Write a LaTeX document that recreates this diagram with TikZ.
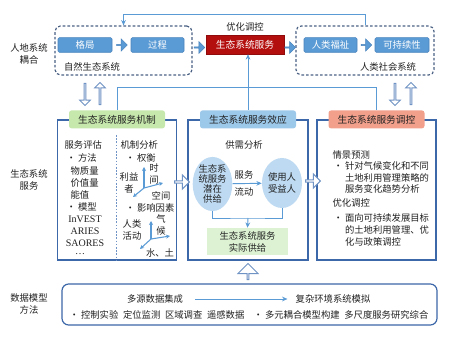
\documentclass[tikz,border=0pt]{standalone}
\usepackage{fontspec}
\setmainfont{Noto Sans CJK SC}
\newfontfamily\latinfont{Liberation Serif}
\usetikzlibrary{arrows.meta,positioning,calc,shapes.geometric,shapes.arrows}
\definecolor{ESLine}{HTML}{5B9BD5}
\definecolor{ESFrame}{HTML}{3C67A8}
\definecolor{ESDash}{HTML}{4A6184}
\definecolor{ESChip}{HTML}{5B9BD5}
\definecolor{ESChipEdge}{HTML}{4A84BE}
\definecolor{ESRed}{HTML}{B40F0F}
\definecolor{ESGreen}{HTML}{C6E8AC}
\definecolor{ESGreenBox}{HTML}{DCF2D3}
\definecolor{ESBlueHead}{HTML}{9CC8EA}
\definecolor{ESSalmon}{HTML}{F2A08C}
\definecolor{ESOval}{HTML}{BDDAF2}
\definecolor{ESHollow}{HTML}{6F93C4}
\definecolor{ESInk}{HTML}{222222}
\tikzset{
  link/.style={ESLine,line width=0.7pt},
  linkarrow/.style={link,-{Stealth[length=4pt,width=3.5pt]}},
  axis/.style={ESLine,line width=0.8pt,-{Stealth[length=3pt,width=3pt]}},
  divider/.style={ESHollow,line width=0.6pt,dash pattern=on 1.2pt off 1.2pt},
  txt/.style={text=ESInk,font=\fontsize{7}{9}\selectfont,inner sep=1pt,align=center},
  sysbox/.style={draw=ESDash,line width=0.9pt,dash pattern=on 2pt off 1.5pt,rounded corners=4pt},
  chip/.style={draw=ESChipEdge,line width=0.5pt,fill=ESChip,text=white,rounded corners=1pt,
               font=\fontsize{7}{9}\selectfont,minimum height=11pt,inner sep=0pt},
  essbox/.style={draw=ESRed!80!black,fill=ESRed,text=white,font=\fontsize{7.3}{9}\selectfont,
               minimum width=58.5pt,minimum height=14.25pt,inner sep=0pt},
  flowblock/.style={single arrow,fill=ESChip,draw=ESChipEdge,line width=0.4pt,inner sep=0pt,
               minimum height=8pt,minimum width=9pt,single arrow head extend=1.5pt},
  hollow/.style={single arrow,draw=ESHollow,fill=white,line width=0.7pt,inner sep=0pt,
               single arrow head extend=1.8pt,minimum width=8pt},
  frame/.style={draw=ESFrame,line width=0.9pt,fill=white,minimum height=105pt,inner sep=0pt},
  head/.style={rounded corners=2pt,minimum width=72pt,minimum height=13.5pt,inner sep=0pt,
               text=ESInk,font=\fontsize{7.3}{9}\selectfont},
  oval/.style={ellipse,fill=ESOval,inner sep=0pt,text=ESInk,align=center},
}
\begin{document}
\begin{tikzpicture}[x=.75pt,y=-.75pt]
  \fill[white] (0,0) rectangle (474,338);

  % row labels
  \node[txt] (lblCoupling) at (29,54) {人地系统\\耦合};
  \node[txt] (lblService) at (29,180) {生态系统\\服务};
  \node[txt] (lblMethod) at (29,304) {数据模型\\方法};

  % coupled system
  \node[sysbox,minimum width=102.75pt,minimum height=36.75pt] (natSys) at (123.5,50.5) {};
  \node[sysbox,minimum width=103.5pt,minimum height=36.75pt] (humSys) at (365,50.5) {};
  \node[txt] (natLbl) at (92,67) {自然生态系统};
  \node[txt] (humLbl) at (388,67) {人类社会系统};
  \node[chip,minimum width=40.5pt] (pattern) at (85,45) {格局};
  \node[chip,minimum width=39.75pt] (process) at (157.5,45) {过程};
  \node[chip,minimum width=39.75pt] (welfare) at (330.5,45) {人类福祉};
  \node[chip,minimum width=40.5pt] (sustain) at (402,45) {可持续性};
  \node[essbox] (ess) at (245,44.5) {生态系统服务};
  \node[txt] (optLbl) at (245,27) {优化调控};
  \node[flowblock] (flowA) at ($(pattern.east)!.5!(process.west)$) {};
  \node[flowblock] (flowB) at ($(natSys.east)!.5!(ess.west)$) {};
  \node[flowblock] (flowC) at ($(ess.east)!.5!(humSys.west)$) {};
  \node[flowblock] (flowD) at ($(welfare.east)!.5!(sustain.west)$) {};
  \draw[linkarrow] (humSys.north) -- ++(0,-11) -| (natSys.north);

  \node[hollow,shape border rotate=270,minimum height=16.5pt] (natDown) at (85,94) {};
  \node[hollow,shape border rotate=90,minimum height=16.5pt] (natUp) at (100,94) {};
  \node[hollow,shape border rotate=270,minimum height=16.5pt] (humDown) at (395,94) {};
  \node[hollow,shape border rotate=90,minimum height=16.5pt] (humUp) at (411,94) {};

  % three panels
  \node[frame,minimum width=89pt] (mech) at (117,190) {};
  \node[frame,minimum width=90pt] (eff) at (248,190) {};
  \node[frame,minimum width=89.25pt] (reg) at (376.5,190) {};
  \node[head,fill=ESGreen] (mechHead) at (mech.north) {生态系统服务机制};
  \node[head,fill=ESBlueHead] (effHead) at (eff.north) {生态系统服务效应};
  \node[head,fill=ESSalmon] (regHead) at (reg.north) {生态系统服务调控};
  \draw[link] (mechHead.north) -- ++(0,-23) -| (regHead.north);
  \draw[linkarrow] (effHead.north) -- (effHead.north |- ess.south);
  \node[hollow,line width=0.8pt,shape border rotate=0,minimum height=11pt,minimum width=10.5pt,single arrow head extend=2.2pt] (mechToEff) at (181.5,182) {};
  \node[hollow,line width=0.8pt,shape border rotate=0,minimum height=11pt,minimum width=10.5pt,single arrow head extend=2.2pt] (effToReg) at (312.5,181) {};

  % mechanism panel
  \draw[divider] (116,135) -- (116,260);
  \node[txt,anchor=west] (svcEval) at (63,145) {服务评估};
  \node[txt,anchor=west] (bMethod) at (65,158) {\textbullet\ 方法};
  \node[txt,anchor=west,align=left] (methods) at (69,183) {物质量\\价值量\\能值};
  \node[txt,anchor=west] (bModel) at (65,207) {\textbullet\ 模型};
  \node[txt,font=\latinfont\fontsize{7.5}{9}\selectfont] (models) at (85,231) {InVEST\\ARIES\\SAORES};
  \node[txt,font=\latinfont\fontsize{7.5}{9}\selectfont] (more) at (80,254) {\dots};
  \node[txt,anchor=west] (mechAna) at (119,145) {机制分析};
  \node[txt,anchor=west] (bTrade) at (124,158) {\textbullet\ 权衡};
  \coordinate (tradeO) at (144,188);
  \draw[axis] (tradeO) -- ++(0,-21);
  \draw[axis] (tradeO) -- ++(19,-5);
  \draw[axis] (tradeO) -- ++(-11,9);
  \node[txt] (stake) at (129,183) {利益\\者};
  \node[txt] (timeAx) at (154,174) {时\\间};
  \node[txt] (spaceAx) at (161,196) {空间};
  \node[txt,anchor=west] (bFactor) at (124,208) {\textbullet\ 影响因素};
  \coordinate (factO) at (151,239);
  \draw[axis] (factO) -- ++(0,-18);
  \draw[axis] (factO) -- ++(19,-3);
  \draw[axis] (factO) -- ++(-11,10);
  \node[txt] (human) at (132,230) {人类\\活动};
  \node[txt] (climate) at (161,225) {气\\候};
  \node[txt] (waterSoil) at (160,253) {水、土};

  % effect panel
  \node[txt] (sdLbl) at (244,145) {供需分析};
  \node[oval,font=\fontsize{7}{7.4}\selectfont] (supply) at (212.5,184) {生态系\\统服务\\潜在\\供给};
  \node[oval,font=\fontsize{7}{9}\selectfont,minimum width=30pt,minimum height=37.5pt] (benef) at (282,183) {使用人\\受益人};
  \draw[linkarrow] (supply) -- (benef);
  \node[txt] (flowUp) at (244,175) {服务};
  \node[txt] (flowDn) at (244,192) {流动};
  \node[txt,fill=ESGreenBox,minimum width=60.75pt,minimum height=20.25pt] (actual) at (247.5,241.5) {生态系统服务\\实际供给};
  \coordinate (merge) at (248,218);
  \draw[link] (supply.south) |- (merge) -| (benef.south);
  \draw[linkarrow] (merge) -- (actual.north);

  % regulation panel
  \node[txt,anchor=west] (scen) at (331,155) {情景预测};
  \node[txt,anchor=west,align=left,font=\fontsize{7}{8.8}\selectfont] (scenTxt) at (332,177.5)
    {\textbullet\ 针对气候变化和不同\\\hphantom{\textbullet\ }土地利用管理策略的\\\hphantom{\textbullet\ }服务变化趋势分析};
  \node[txt,anchor=west] (optReg) at (331,203) {优化调控};
  \node[txt,anchor=west,align=left,font=\fontsize{7}{8.8}\selectfont] (optTxt) at (332,230)
    {\textbullet\ 面向可持续发展目标\\\hphantom{\textbullet\ }的土地利用管理、优\\\hphantom{\textbullet\ }化与政策调控};

  % data and models
  \node[hollow,shape border rotate=90,minimum height=12pt,minimum width=15pt,single arrow head extend=3.5pt] (dataUp) at (248,272) {};
  \node[draw=ESFrame,line width=0.9pt,rounded corners=5pt,minimum width=281.25pt,minimum height=30.75pt] (dataBox) at (249.5,304.5) {};
  \node[txt] (integ) at (155,299) {多源数据集成};
  \node[txt] (simul) at (333,299) {复杂环境系统模拟};
  \draw[linkarrow,shorten <=8pt,shorten >=5pt] (integ) -- (simul);
  \node[txt] (obsList) at (157,315) {\textbullet\ 控制实验\enspace 定位监测\enspace 区域调查\enspace 遥感数据};
  \node[txt] (modList) at (341,315) {\textbullet\ 多元耦合模型构建\enspace 多尺度服务研究综合};
\end{tikzpicture}
\end{document}
